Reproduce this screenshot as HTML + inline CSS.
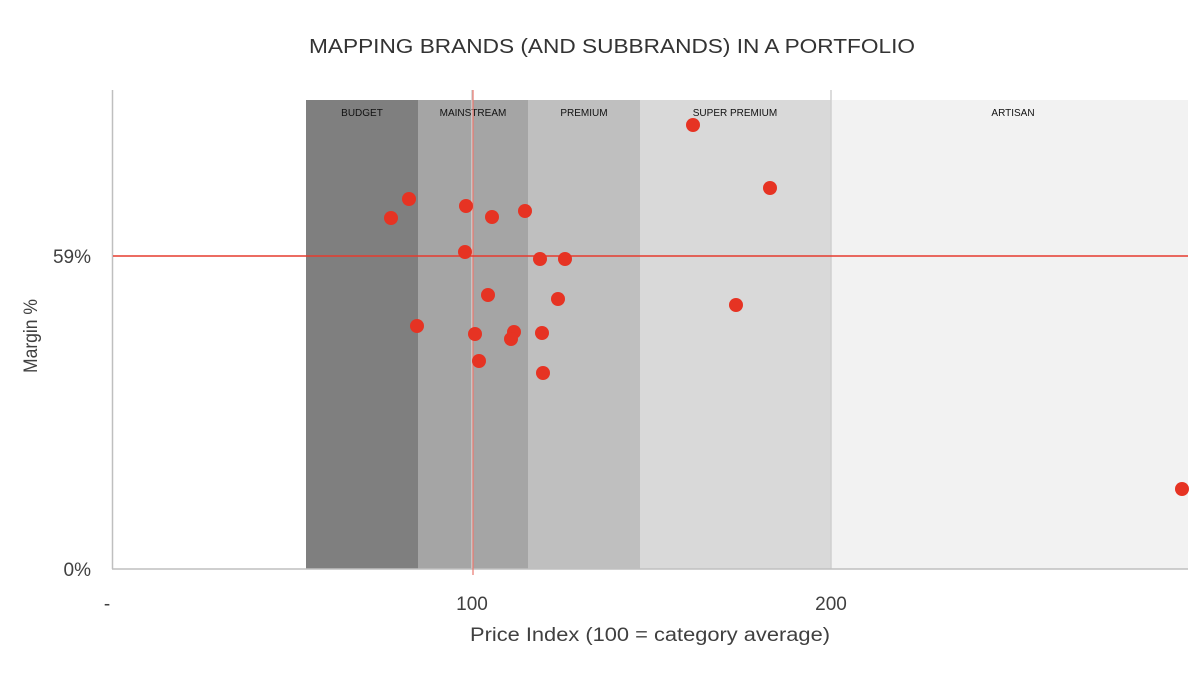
<!DOCTYPE html>
<html><head><meta charset="utf-8"><style>
html,body{margin:0;padding:0;background:#fff;}
svg{display:block;font-family:"Liberation Sans",sans-serif;}
</style></head><body>
<svg width="1200" height="676" viewBox="0 0 1200 676" xmlns="http://www.w3.org/2000/svg">
<text x="612" y="53" text-anchor="middle" font-size="20" fill="#333" textLength="606" lengthAdjust="spacingAndGlyphs">MAPPING BRANDS (AND SUBBRANDS) IN A PORTFOLIO</text>
<rect x="306" y="100" width="112" height="469" fill="#7f7f7f"/>
<rect x="418" y="100" width="110" height="469" fill="#a5a5a5"/>
<rect x="528" y="100" width="112" height="469" fill="#bfbfbf"/>
<rect x="640" y="100" width="191" height="469" fill="#d9d9d9"/>
<rect x="831" y="100" width="357" height="469" fill="#f2f2f2"/>
<line x1="472" y1="90" x2="472" y2="569" stroke="#d0d0d0" stroke-width="1.5"/>
<line x1="831" y1="90" x2="831" y2="569" stroke="#d0d0d0" stroke-width="1.5"/>
<line x1="112.5" y1="90" x2="112.5" y2="569" stroke="#bfbfbf" stroke-width="1.5"/>
<line x1="112" y1="569" x2="1188" y2="569" stroke="#bfbfbf" stroke-width="1.5"/>
<g font-size="10" fill="#111" text-anchor="middle">
<text x="362" y="116">BUDGET</text>
<text x="473" y="116">MAINSTREAM</text>
<text x="584" y="116">PREMIUM</text>
<text x="735" y="116">SUPER PREMIUM</text>
<text x="1013" y="116">ARTISAN</text>
</g>
<line x1="473" y1="90" x2="473" y2="575" stroke="#e8776e" stroke-width="1.2"/>
<line x1="113" y1="256" x2="1188" y2="256" stroke="#e63b2e" stroke-width="1.5"/>
<g fill="#e63323">
<circle cx="391" cy="218" r="7"/><circle cx="409" cy="199" r="7"/><circle cx="466" cy="206" r="7"/>
<circle cx="492" cy="217" r="7"/><circle cx="525" cy="211" r="7"/><circle cx="465" cy="252" r="7"/>
<circle cx="540" cy="259" r="7"/><circle cx="565" cy="259" r="7"/><circle cx="488" cy="295" r="7"/>
<circle cx="558" cy="299" r="7"/><circle cx="417" cy="326" r="7"/><circle cx="475" cy="334" r="7"/>
<circle cx="514" cy="332" r="7"/><circle cx="511" cy="339" r="7"/><circle cx="542" cy="333" r="7"/>
<circle cx="479" cy="361" r="7"/><circle cx="543" cy="373" r="7"/><circle cx="693" cy="125" r="7"/>
<circle cx="770" cy="188" r="7"/><circle cx="736" cy="305" r="7"/><circle cx="1182" cy="489" r="7"/>
</g>
<g font-size="19" fill="#404040">
<text x="91" y="263" text-anchor="end">59%</text>
<text x="91" y="576" text-anchor="end">0%</text>
<text x="107" y="610" text-anchor="middle">-</text>
<text x="472" y="610" text-anchor="middle">100</text>
<text x="831" y="610" text-anchor="middle">200</text>
<text x="650" y="641" text-anchor="middle" textLength="360" lengthAdjust="spacingAndGlyphs">Price Index (100 = category average)</text>
<text transform="translate(37,336) rotate(-90)" text-anchor="middle" textLength="74" lengthAdjust="spacingAndGlyphs">Margin %</text>
</g>
</svg>
</body></html>
